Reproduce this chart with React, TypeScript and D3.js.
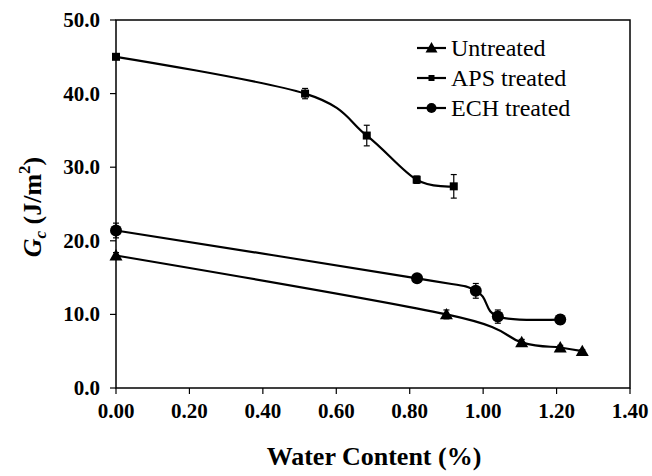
import React from "react";
import * as d3 from "d3";

const xTicks = [0, 0.2, 0.4, 0.6, 0.8, 1.0, 1.2, 1.4];
const yTicks = [0, 10, 20, 30, 40, 50];

const untreatedX = [0, 0.9, 1.105, 1.21, 1.27];
const untreatedY = [18.0, 10.0, 6.2, 5.5, 5.0];
const untreatedErr = [0.4, 0.6, 0.4, 0.3, 0.2];

const apsX = [0, 0.515, 0.683, 0.819, 0.92];
const apsY = [45.0, 40.0, 34.3, 28.3, 27.4];
const apsErr = [0.3, 0.7, 1.4, 0.5, 1.6];

const echX = [0, 0.82, 0.98, 1.04, 1.21];
const echY = [21.4, 14.9, 13.2, 9.7, 9.3];
const echErr = [1.0, 0.5, 1.0, 0.9, 0.6];

const seriesNames = ["Untreated", "APS treated", "ECH treated"];

const W = 652, H = 476;
const L = 116, R = 630, T = 20, B = 388;
const serif = "Liberation Serif, Times New Roman, Times, serif";

export default function App() {
  const x = d3.scaleLinear().domain([0, 1.4]).range([L, R]);
  const y = d3.scaleLinear().domain([0, 50]).range([B, T]);
  const line = d3
    .line<[number, number]>()
    .x((d) => x(d[0]))
    .y((d) => y(d[1]))
    .curve(d3.curveCardinal.tension(0));

  const series = [
    { name: seriesNames[0], xs: untreatedX, ys: untreatedY, es: untreatedErr, m: "tri" },
    { name: seriesNames[1], xs: apsX, ys: apsY, es: apsErr, m: "sq" },
    { name: seriesNames[2], xs: echX, ys: echY, es: echErr, m: "circ" },
  ];

  const marker = (m: string, cx: number, cy: number, key: string, legend = false) => {
    if (m === "tri") {
      const s = legend ? 6 : 6.5;
      return <path key={key} d={`M${cx},${cy - s} L${cx + s},${cy + s * 0.75} L${cx - s},${cy + s * 0.75} Z`} fill="#000" />;
    }
    if (m === "sq") {
      const s = legend ? 3 : 4;
      return <rect key={key} x={cx - s} y={cy - s} width={2 * s} height={2 * s} fill="#000" />;
    }
    return <circle key={key} cx={cx} cy={cy} r={legend ? 5 : 6} fill="#000" />;
  };

  return (
    <svg width={W} height={H} style={{ position: "absolute", left: 0, top: 0, background: "#fff", fontFamily: serif }}>
      <rect x={0} y={0} width={W} height={H} fill="#fff" />
      <rect x={L} y={T} width={R - L} height={B - T} fill="none" stroke="#000" strokeWidth={1.5} />
      {xTicks.map((t) => (
        <g key={"xt" + t}>
          <line x1={x(t)} x2={x(t)} y1={B} y2={B + 6} stroke="#000" strokeWidth={1.2} />
          <text x={x(t)} y={418} textAnchor="middle" fontSize={21} fontWeight="bold" style={{ fontFamily: serif }}>
            {t.toFixed(2)}
          </text>
        </g>
      ))}
      {yTicks.map((t) => (
        <g key={"yt" + t}>
          <line x1={L - 6} x2={L} y1={y(t)} y2={y(t)} stroke="#000" strokeWidth={1.2} />
          <text x={100} y={y(t) + 7} textAnchor="end" fontSize={21} fontWeight="bold" style={{ fontFamily: serif }}>
            {t.toFixed(1)}
          </text>
        </g>
      ))}
      <text x={(L + R) / 2 + 1} y={465} textAnchor="middle" fontSize={26} fontWeight="bold" style={{ fontFamily: serif }}>
        Water Content (%)
      </text>
      <text transform="translate(41,207) rotate(-90)" textAnchor="middle" fontSize={26} fontWeight="bold" style={{ fontFamily: serif }}>
        <tspan fontStyle="italic">G</tspan>
        <tspan fontStyle="italic" fontSize={17} dy={5}>c</tspan>
        <tspan dy={-5}>{"  (J/m"}</tspan>
        <tspan fontSize={17} dy={-11}>2</tspan>
        <tspan dy={11}>)</tspan>
      </text>
      {series.map((s) => {
        const pts = s.xs.map((v, i) => [v, s.ys[i]] as [number, number]);
        return (
          <g key={s.name}>
            <path d={line(pts) || ""} fill="none" stroke="#000" strokeWidth={2.2} />
            {pts.map((p, i) => (
              <g key={i}>
                <line x1={x(p[0])} x2={x(p[0])} y1={y(p[1] - s.es[i])} y2={y(p[1] + s.es[i])} stroke="#000" strokeWidth={1.2} />
                <line x1={x(p[0]) - 3} x2={x(p[0]) + 3} y1={y(p[1] - s.es[i])} y2={y(p[1] - s.es[i])} stroke="#000" strokeWidth={1.2} />
                <line x1={x(p[0]) - 3} x2={x(p[0]) + 3} y1={y(p[1] + s.es[i])} y2={y(p[1] + s.es[i])} stroke="#000" strokeWidth={1.2} />
                {marker(s.m, x(p[0]), y(p[1]), "m" + i)}
              </g>
            ))}
          </g>
        );
      })}
      {series.map((s, i) => {
        const ly = 48 + i * 30;
        return (
          <g key={"lg" + i}>
            <line x1={417} x2={446} y1={ly} y2={ly} stroke="#000" strokeWidth={2.2} />
            {marker(s.m, 431.5, ly, "lm" + i, true)}
            <text x={451} y={ly + 8} fontSize={24} style={{ fontFamily: serif }}>
              {s.name}
            </text>
          </g>
        );
      })}
    </svg>
  );
}
